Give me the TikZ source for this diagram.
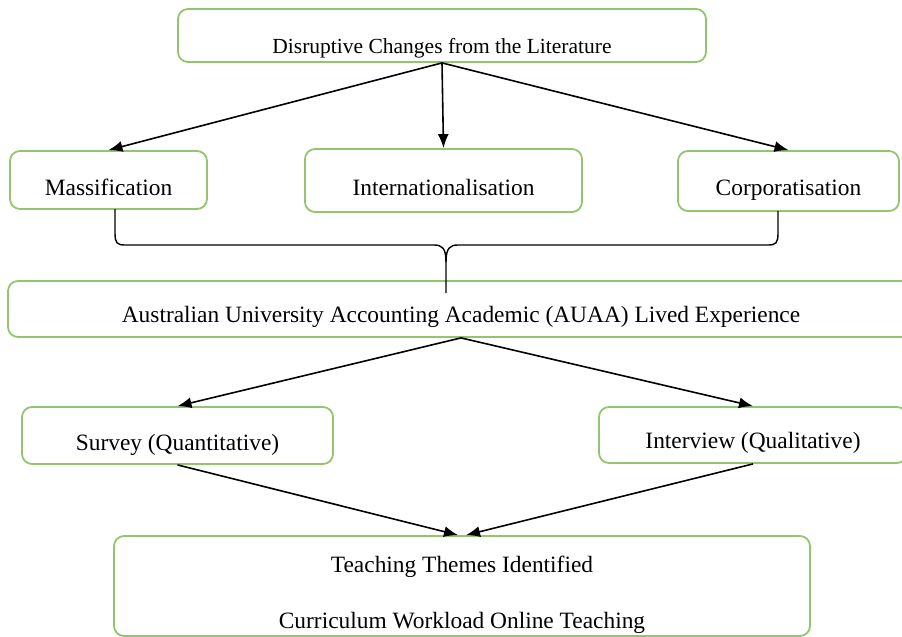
\documentclass[tikz,border=0pt]{standalone}
\usepackage{fontspec}
\setmainfont{Liberation Serif}
\usetikzlibrary{arrows.meta,calc}
\definecolor{boxgreen}{RGB}{146,198,108}
\tikzset{
  box/.style={draw=boxgreen, line width=1.8pt, rounded corners=10pt, inner sep=0pt,
    font=\fontsize{23.4}{28}\selectfont},
  arr/.style={line width=1.6pt, -{Latex[length=14pt,width=11pt]}}
}

\begin{document}
\begin{tikzpicture}[x=1pt,y=-1pt]
  \clip (0,0) rectangle (902,637);
  \node[box, minimum width=528pt, text height=44pt, text depth=9pt, font=\fontsize{21.5}{26}\selectfont] (top) at (442,35.5) {Disruptive Changes from the Literature};
  \node[box, minimum width=197pt, text height=44pt, text depth=14pt] (mas) at (108.5,180) {Massification};
  \node[box, minimum width=277pt, text height=46pt, text depth=17pt] (intl) at (443.5,180.5) {Internationalisation};
  \node[box, minimum width=221pt, text height=44pt, text depth=16pt] (corp) at (788.5,181) {Corporatisation};
  \node[box, minimum width=906pt, text height=41pt, text depth=15pt] (auaa) at (461,309) {Australian University Accounting Academic (AUAA) Lived Experience};
  \node[box, minimum width=311pt, text height=43pt, text depth=14pt] (survey) at (177.5,435.5) {Survey (Quantitative)};
  \node[box, minimum width=308pt, text height=41pt, text depth=15pt] (interview) at (753,435) {Interview (Qualitative)};
  \node[box, minimum width=696pt, text height=92pt, text depth=8pt, align=center, font=\fontsize{23.4}{56}\selectfont] (teach) at (462,586) {Teaching Themes Identified\\Curriculum Workload Online Teaching};
  \draw[arr] (top.south) -- (mas.north);
  \draw[arr] (top.south) -- (intl.north);
  \draw[arr] (top.south) -- (corp.north);
  \draw[line width=1.4pt] (115,209) -- (115,233) .. controls (115,243) and (117,245) .. (125,245) -- (434,245) .. controls (442,245) and (446,248) .. (446,262) -- (446,293);
  \draw[line width=1.4pt] (778,211) -- (778,233) .. controls (778,243) and (776,245) .. (768,245) -- (458,245) .. controls (450,245) and (446,248) .. (446,262);
  \draw[arr] (auaa.south) -- (survey.north);
  \draw[arr] (auaa.south) -- (interview.north);
  \draw[arr] (survey.south) -- ($(teach.north)+(-4,0)$);
  \draw[arr] (interview.south) -- ($(teach.north)+(4,0)$);
\end{tikzpicture}
\end{document}
